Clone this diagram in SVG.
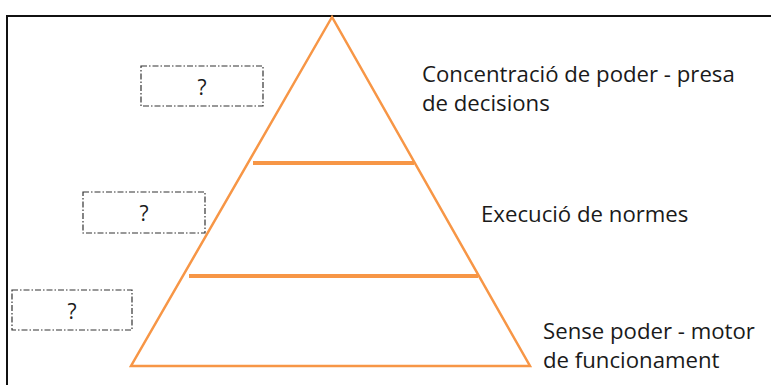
<svg xmlns="http://www.w3.org/2000/svg" width="771" height="385" viewBox="0 0 771 385">
<style>
.lbl{font-family:"Open Sans","Liberation Sans",sans-serif;font-size:22.2px;fill:#1a1a1a}
.q{font-family:"Open Sans","Liberation Sans",sans-serif;font-size:21px;fill:#1a1a1a;text-anchor:middle}
.box{fill:#fff;stroke:#333;stroke-width:1.2;stroke-dasharray:6 2 1.5 2}
.tier{stroke:#f79646;stroke-width:4;stroke-linecap:butt}
</style>
<rect width="771" height="385" fill="#fff"/>
<rect x="7" y="16" width="780" height="380" fill="none" stroke="#111" stroke-width="2"/>
<g id="pyramid">
<polygon points="332,17 131,366 530,366" fill="none" stroke="#f79646" stroke-width="2.5"/>
</g>
<g id="connectors">
<line class="tier" x1="253" y1="163" x2="414" y2="163"/>
<line class="tier" x1="189" y1="276" x2="478" y2="276"/>
</g>
<g id="box1"><rect class="box" x="141" y="66" width="122" height="40"/><text class="q" x="202" y="95">?</text></g>
<g id="box2"><rect class="box" x="83" y="192" width="122" height="41"/><text class="q" x="144" y="221">?</text></g>
<g id="box3"><rect class="box" x="12" y="290" width="120" height="40"/><text class="q" x="72" y="319">?</text></g>
<g id="label1"><text class="lbl" x="422" y="82">Concentració de poder - presa</text><text class="lbl" x="422" y="111">de decisions</text></g>
<g id="label2"><text class="lbl" x="481" y="222">Execució de normes</text></g>
<g id="label3"><text class="lbl" x="543" y="339">Sense poder - motor</text><text class="lbl" x="543" y="368">de funcionament</text></g>
</svg>
